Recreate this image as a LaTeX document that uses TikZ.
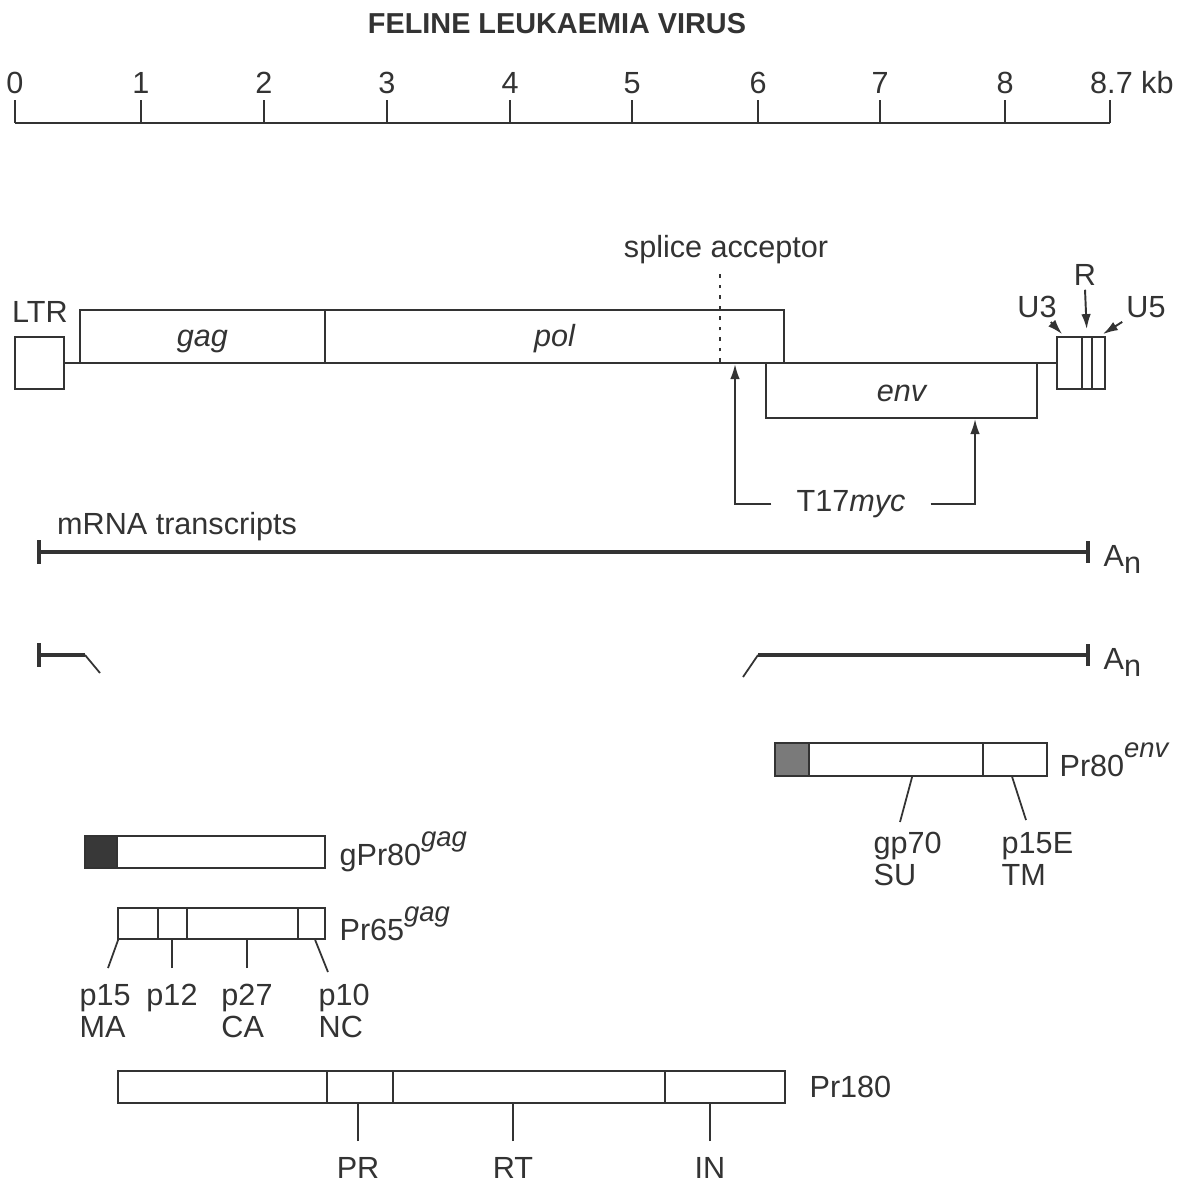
\documentclass[tikz,border=0pt]{standalone}
\usepackage{fontspec}
\setmainfont{Liberation Sans}
\usepackage{xcolor}
\usetikzlibrary{arrows.meta,positioning,calc,fit}
\definecolor{ink}{gray}{0.2}
\definecolor{sigdark}{gray}{0.22}
\definecolor{sigmid}{gray}{0.48}
\newcommand{\geneup}[1]{\raisebox{0.62em}{\fontsize{7.8}{8}\selectfont\itshape #1}}
\newcommand{\polyA}{A\raisebox{-0.24em}{n}}
\tikzset{
  seg/.style     = {draw=ink, line width=0.5pt, inner sep=0pt, text=ink},
  lbl/.style     = {text=ink, inner sep=1pt, font=\fontsize{8.7}{10}\selectfont},
  gene/.style    = {text=ink, inner sep=0pt, anchor=base,
                    font=\fontsize{8.7}{10}\selectfont\itshape},
  pname/.style   = {text=ink, inner sep=0pt, font=\fontsize{8.7}{10}\selectfont},
  ptag/.style    = {text=ink, inner xsep=0pt, inner ysep=4.5pt, align=left,
                    font=\fontsize{8.7}{9.1}\selectfont},
  leader/.style  = {draw=ink, line width=0.5pt},
  spl/.style     = {draw=ink, line width=0.5pt, dash pattern=on 1pt off 2pt},
  pointer/.style = {-{Latex[length=1.5mm,width=0.95mm]}, draw=ink, line width=0.55pt},
  mrna/.style    = {draw=ink, line width=1.2pt},
}

\begin{document}
\begin{tikzpicture}[x=0.01cm, y=-0.01cm]
\fill[white] (0,0) rectangle (1194,1184);
\useasboundingbox (0,0) rectangle (1194,1184);

% ---------------- title and kb scale ---------------------------------
\node[lbl, font=\fontsize{8.2}{10}\selectfont\bfseries] (title) at (557,24)
  {FELINE LEUKAEMIA VIRUS};

\draw[leader] (15,123) -- (1110,123);
\foreach \x/\k in {15/0,141/1,264/2,387/3,510/4,632/5,758/6,880/7,1005/8} {
  \draw[leader] (\x,100) -- (\x,123);
  \node[lbl] (kb\k) at (\x,83) {\k};
}
\draw[leader] (1110,100) -- (1110,123);
\node[lbl, anchor=west] (kbend) at (1086,83) {8.7 kb};

% ---------------- provirus ---------------------------------------------
\node[seg, fit={(15,337) (64,389)}] (ltr5) {};
\node[lbl] (ltrlab) at (40,312) {LTR};

\node[seg, fit={(80,310) (325,363)}] (gag) {};
\node[seg, fit={(325,310) (784,363)}] (pol) {};
\node[seg, fit={(766,363) (1037,418)}] (env) {};
\node[gene] (gagtxt) at ([yshift=-2.7pt]gag.center) {gag};
\node[gene] (poltxt) at ([yshift=-2.7pt]pol.center) {pol};
\node[gene] (envtxt) at ([yshift=-3pt]env.center) {env};

\node[seg, fit={(1057,337) (1082,389)}] (u3) {};
\node[seg, fit={(1082,337) (1092,389)}] (rr) {};
\node[seg, fit={(1092,337) (1105,389)}] (u5) {};

\draw[leader] (ltr5.east) -- (u3.west);

\node[lbl] (u3lab) at (1037,307) {U3};
\node[lbl] (rlab) at (1085,275) {R};
\node[lbl] (u5lab) at (1146,307) {U5};
\draw[pointer] ($(u3lab.south east)+(-10,0)$) -- ($(u3.north west)+(6,-2)$);
\draw[pointer, shorten >=2pt] (rlab.south) -- (rr.north);
\draw[pointer] (u5lab.south west) -- ($(u5.north east)+(-3,-2)$);

% splice acceptor and the T17myc insertion sites
\node[lbl] (splice) at (726,250) {splice acceptor};
\coordinate (sacc) at (720,362);
\draw[spl] (sacc) -- (sacc |- splice.south);

\node[lbl, inner xsep=7pt] (t17) at (851,504) {T17\textit{myc}};
\coordinate (t17sa) at (735,364);
\coordinate (t17env) at (975,419);
\draw[pointer] (t17.west) -| (t17sa);
\draw[pointer] (t17.east) -| (t17env);

% ---------------- mRNA transcripts -------------------------------------
\node[lbl, anchor=west] (mrnalab) at (53,527) {mRNA transcripts};

\coordinate (m1a) at (37,552);
\coordinate (m1b) at (1090,552);
\draw[mrna, arrows={Bar[width=6.8pt]-Bar[width=6pt]}] (m1a) -- (m1b);
\node[pname, anchor=base west] (an1) at (1103,566) {\polyA};

\coordinate (m2a) at (37,655);
\coordinate (m2k) at (85,655);
\coordinate (m2j) at (758,655);
\coordinate (m2b) at (1090,655);
\draw[mrna, arrows={Bar[width=6.8pt]-}] (m2a) -- (m2k);
\draw[leader] (m2k) -- ++(15,18);
\draw[leader] (m2j) -- ++(-15,22);
\draw[mrna, arrows={-Bar[width=6pt]}] (m2j) -- (m2b);
\node[pname, anchor=base west] (an2) at (1103,669) {\polyA};

% ---------------- env precursor ----------------------------------------
\node[seg, fill=sigmid, fit={(775,743) (809,776)}] (pr80sig) {};
\node[seg, fit={(809,743) (983,776)}] (pr80su) {};
\node[seg, fit={(983,743) (1047,776)}] (pr80tm) {};
\node[pname, right=1.1mm of pr80tm] (pr80lab) {Pr80\geneup{env}};

\node[ptag, anchor=north west] (gp70) at (873,816) {gp70\\SU};
\node[ptag, anchor=north west] (p15e) at (1001,816) {p15E\\TM};
\draw[leader] ($(pr80su.south west)+(104,0)$) -- ($(gp70.north west)+(27,6)$);
\draw[leader] ($(pr80tm.south west)+(30,0)$) -- ($(p15e.north west)+(25,4)$);

% ---------------- gag precursors ---------------------------------------
\node[seg, fill=sigdark, fit={(85,836) (117,868)}] (gpr80sig) {};
\node[seg, fit={(117,836) (325,868)}] (gpr80) {};
\node[pname, right=1.3mm of gpr80] (gpr80lab) {gPr80\geneup{gag}};

\node[seg, fit={(118,908) (158,939)}] (pr65ma) {};
\node[seg, fit={(158,908) (187,939)}] (pr65p12) {};
\node[seg, fit={(187,908) (298,939)}] (pr65ca) {};
\node[seg, fit={(298,908) (325,939)}] (pr65nc) {};
\node[pname, right=1.3mm of pr65nc] (pr65lab) {Pr65\geneup{gag}};

\node[ptag, anchor=north west] (p15) at (79,968) {p15\\MA};
\node[ptag, anchor=north] (p12) at (172,968) {p12};
\node[ptag, anchor=north] (p27) at (247,968) {p27\\CA};
\node[ptag, anchor=north west] (p10) at (318,968) {p10\\NC};
\draw[leader] ($(pr65ma.south west)+(1,0)$) -- ($(p15.north west)+(29,0)$);
\draw[leader] (p12.north) -- (p12.north |- pr65p12.south);
\draw[leader] (p27.north) -- (p27.north |- pr65ca.south);
\draw[leader] ($(pr65nc.south west)+(18,0)$) -- ($(p10.north west)+(10,4)$);

% ---------------- gag-pol precursor ------------------------------------
\node[seg, fit={(118,1071) (327,1103)}] (pr180gag) {};
\node[seg, fit={(327,1071) (393,1103)}] (pr180pr) {};
\node[seg, fit={(393,1071) (665,1103)}] (pr180rt) {};
\node[seg, fit={(665,1071) (785,1103)}] (pr180in) {};
\node[pname, right=2.3mm of pr180in] (pr180lab) {Pr180};

\node[ptag, anchor=north] (prlab) at (358,1141) {PR};
\node[ptag, anchor=north] (rtlab) at (513,1141) {RT};
\node[ptag, anchor=north] (inlab) at (710,1141) {IN};
\foreach \t/\b in {prlab/pr180pr, rtlab/pr180rt, inlab/pr180in}
  \draw[leader] (\t.north) -- (\t.north |- \b.south);

\end{tikzpicture}
\end{document}
